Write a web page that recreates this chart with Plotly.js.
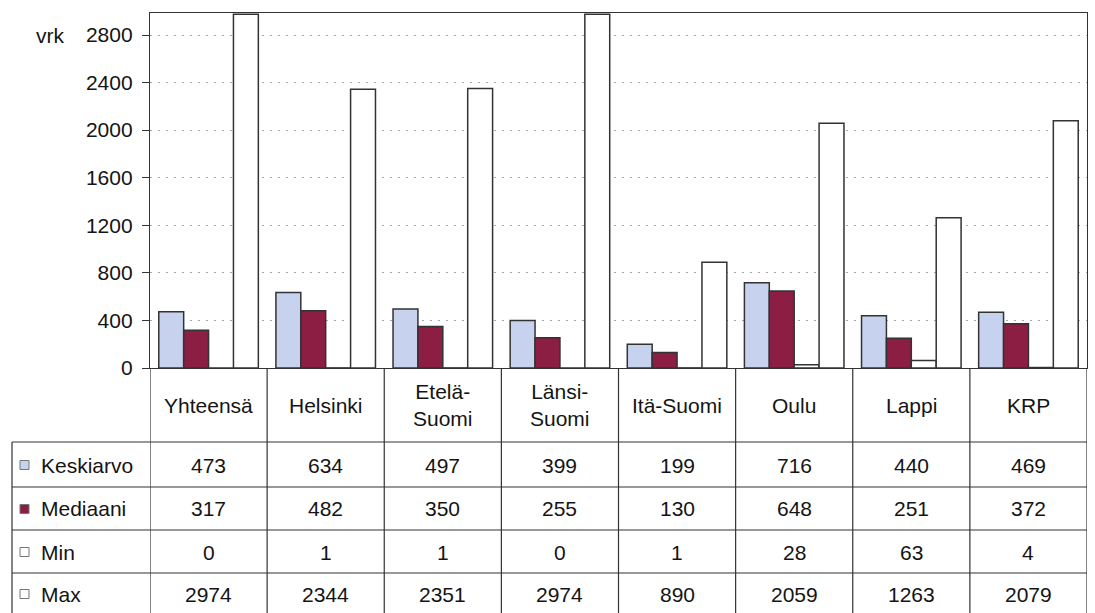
<!DOCTYPE html>
<html>
<head>
<meta charset="utf-8">
<script src="https://cdn.plot.ly/plotly-3.0.1.min.js"></script>
<style>
  html, body { margin: 0; padding: 0; background: #fff; }
  #chart { width: 1095px; height: 613px; }
</style>
</head>
<body>
<div id="chart"></div>
<script>
// Processing times (days) by region
const regions = ['Yhteensä', 'Helsinki', 'Etelä-Suomi', 'Länsi-Suomi', 'Itä-Suomi', 'Oulu', 'Lappi', 'KRP'];
const headerLabels = ['Yhteensä', 'Helsinki', 'Etelä-<br>Suomi', 'Länsi-<br>Suomi', 'Itä-Suomi', 'Oulu', 'Lappi', 'KRP'];
const seriesNames = ['Keskiarvo', 'Mediaani', 'Min', 'Max'];
const keskiarvo = [473, 634, 497, 399, 199, 716, 440, 469];
const mediaani = [317, 482, 350, 255, 130, 648, 251, 372];
const minimi = [0, 1, 1, 0, 1, 28, 63, 4];
const maksimi = [2974, 2344, 2351, 2974, 890, 2059, 1263, 2079];
const yTicks = [0, 400, 800, 1200, 1600, 2000, 2400, 2800];
const unitLabel = 'vrk';

const seriesValues = [keskiarvo, mediaani, minimi, maksimi];
const fills = ['#c7d3ee', '#8c1d43', '#ffffff', '#ffffff'];
const edge = '#333333';
const textColor = '#141414';
const fontFam = 'Liberation Sans, Arial, sans-serif';
const fontSize = 21;

// plot-area geometry in pixels
const W = 1095, H = 613;
const L = 150, R = 1087, T = 13, B = 368;
const PH = B - T, PW = R - L;
const py = p => (B - p) / PH;          // pixel row -> paper y
const px = p => (p - L) / PW;          // pixel column -> paper x

const traces = seriesNames.map((name, i) => ({
  type: 'bar',
  name: name,
  x: regions,
  y: seriesValues[i],
  marker: { color: fills[i], line: { color: edge, width: 1.5 } },
  hoverinfo: 'x+y+name'
}));

const shapes = [];
const annotations = [];

// table grid: row boundaries below the axis
const rowLines = [442, 487, 530, 573];
const rowCenters = [465, 509, 552, 594];
const tableLeft = 12;
const gridLine = { color: '#333333', width: 1.2 };

rowLines.forEach(r => shapes.push({
  type: 'line', xref: 'paper', yref: 'paper',
  x0: px(tableLeft), x1: 1, y0: py(r), y1: py(r), line: gridLine
}));
// column boundaries at category edges
for (let i = 0; i <= regions.length; i++) {
  shapes.push({
    type: 'line', xref: 'x', yref: 'paper',
    x0: i - 0.5, x1: i - 0.5, y0: py(H), y1: 0, line: gridLine
  });
}
// left edge of the series-name column
shapes.push({
  type: 'line', xref: 'paper', yref: 'paper',
  x0: px(tableLeft), x1: px(tableLeft), y0: py(442), y1: py(H), line: gridLine
});

// header row: region names
headerLabels.forEach((lab, i) => annotations.push({
  xref: 'x', yref: 'paper', x: i, y: py(405),
  text: lab, showarrow: false, xanchor: 'center', yanchor: 'middle',
  font: { family: fontFam, size: fontSize, color: textColor }
}));

// value rows with legend keys
seriesNames.forEach((name, s) => {
  const cy = rowCenters[s];
  shapes.push({
    type: 'rect', xref: 'paper', yref: 'paper',
    x0: px(20), x1: px(29), y0: py(cy + 4.5), y1: py(cy - 4.5),
    fillcolor: fills[s], line: { color: '#777', width: 1 }
  });
  annotations.push({
    xref: 'paper', yref: 'paper', x: px(39), y: py(cy),
    text: name, showarrow: false, xanchor: 'left', yanchor: 'middle',
    font: { family: fontFam, size: fontSize, color: textColor }
  });
  seriesValues[s].forEach((v, i) => annotations.push({
    xref: 'x', yref: 'paper', x: i, y: py(cy),
    text: String(v), showarrow: false, xanchor: 'center', yanchor: 'middle',
    font: { family: fontFam, size: fontSize, color: textColor }
  }));
});

// unit label next to the top tick
annotations.push({
  xref: 'paper', yref: 'y', x: px(66), y: yTicks[yTicks.length - 1],
  text: unitLabel, showarrow: false, xanchor: 'right', yanchor: 'middle',
  font: { family: fontFam, size: fontSize, color: textColor }
});

const layout = {
  width: W, height: H,
  margin: { l: L, r: W - R, t: T, b: H - B, pad: 0 },
  paper_bgcolor: '#ffffff', plot_bgcolor: '#ffffff',
  showlegend: false,
  barmode: 'group', bargap: 0.15, bargroupgap: 0,
  font: { family: fontFam, size: fontSize, color: textColor },
  xaxis: {
    type: 'category', range: [-0.5, regions.length - 0.5],
    showticklabels: false, ticks: '', showgrid: false,
    showline: true, linecolor: '#333333', linewidth: 1.2, mirror: true,
    zeroline: false, fixedrange: true
  },
  yaxis: {
    range: [0, 2985], tickvals: yTicks, ticktext: yTicks.map(String),
    ticks: 'outside', ticklen: 7, tickcolor: '#333333', ticklabelstandoff: 5,
    showgrid: true, gridcolor: '#a8a8a8', griddash: '2px,6px', gridwidth: 1,
    showline: true, linecolor: '#333333', linewidth: 1.2, mirror: true,
    zeroline: false, fixedrange: true,
    tickfont: { family: fontFam, size: fontSize, color: textColor }
  },
  shapes: shapes,
  annotations: annotations
};

Plotly.newPlot('chart', traces, layout, { displayModeBar: false, staticPlot: true });
</script>
</body>
</html>
